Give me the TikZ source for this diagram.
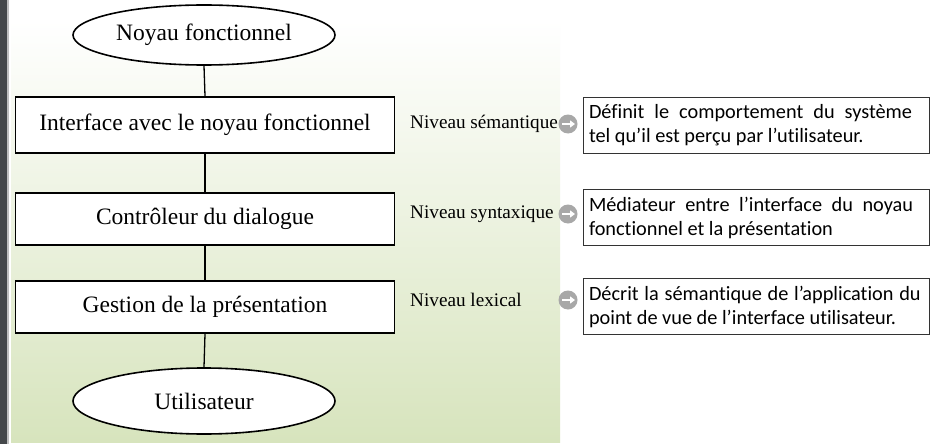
\documentclass[tikz,border=0pt]{standalone}
\usepackage{fontspec}
\setmainfont{Liberation Serif}
\newfontfamily\calib[Ligatures=CommonOff]{Carlito}
\usetikzlibrary{shapes.geometric,arrows.meta}
\definecolor{bggreen}{HTML}{D7E4BD}
\definecolor{stripdark}{HTML}{45484B}
\definecolor{icongray}{HTML}{A8A8A8}
\newcommand\descsetup{\spaceskip=0.226em plus 1em minus 0.12em\relax\hyphenpenalty=10000\relax}
\tikzset{
  ell/.style={ellipse,draw=black,line width=1.6pt,fill=white,minimum width=262pt,minimum height=60pt,inner sep=0pt,font=\fontsize{23.5}{27}\selectfont},
  mainbox/.style={rectangle,draw=black,line width=1.8pt,fill=white,minimum width=379pt,minimum height=52pt,inner sep=0pt,font=\fontsize{23.5}{27}\selectfont},
  lvl/.style={anchor=west,inner sep=0pt,font=\fontsize{19.2}{22}\selectfont},
  descbox/.style={rectangle,draw=black!80,line width=0.9pt,fill=white,text width=334pt,inner xsep=6pt,inner ysep=4pt,minimum height=56pt,font=\calib\fontsize{20.3}{24}\selectfont},
  icon/.style={circle,fill=icongray,minimum size=19pt,inner sep=0pt},
  link/.style={line width=1.3pt,draw=black}
}
\begin{document}
\begin{tikzpicture}[x=1pt,y=-1pt]
\useasboundingbox (0,0) rectangle (934,444);
\fill[white] (0,0) rectangle (934,444);
\shade[top color=white,bottom color=bggreen] (11,20) rectangle (560,442);
\fill[stripdark] (0,0) rectangle (7,444);
\fill[black!25] (7,0) rectangle (9,444);

\node[ell] (nf) at (204,35) {Noyau fonctionnel};
\node[mainbox,minimum height=56pt] (ia) at (205,125) {Interface avec le noyau fonctionnel};
\node[mainbox] (cd) at (205,219) {Contrôleur du dialogue};
\node[mainbox] (gp) at (205,307) {Gestion de la présentation};
\node[ell,minimum height=66pt] (ut) at (204,401) {Utilisateur};

\draw[link] (nf.south) -- (ia.north);
\draw[link] (ia.south) -- (cd.north);
\draw[link] (cd.south) -- (gp.north);
\draw[link] (gp.south) -- (ut.north);

\node[lvl] (l1) at (410,124) {Niveau sémantique};
\node[lvl] (l2) at (410,214) {Niveau syntaxique};
\node[lvl] (l3) at (410,300) {Niveau lexical};

\node[icon] (i1) at (568,124) {};
\node[icon] (i2) at (568,214) {};
\node[icon] (i3) at (568,300) {};
\foreach \i in {i1,i2,i3}{
  \draw[white,line width=2.4pt,-{Triangle[length=5pt,width=7pt]}] ([xshift=-6pt]\i.center) -- ([xshift=7pt]\i.center);
}

\node[descbox] (d1) at (756,125) {\descsetup Définit le comportement du système\linebreak tel qu’il est perçu par l’utilisateur.};
\node[descbox] (d2) at (756,217.5) {\descsetup Médiateur entre l’interface du noyau\linebreak fonctionnel et la présentation};
\node[descbox] (d3) at (756,306.5) {\descsetup Décrit la sémantique de l’application du\linebreak point de vue de l’interface utilisateur.};
\end{tikzpicture}
\end{document}
